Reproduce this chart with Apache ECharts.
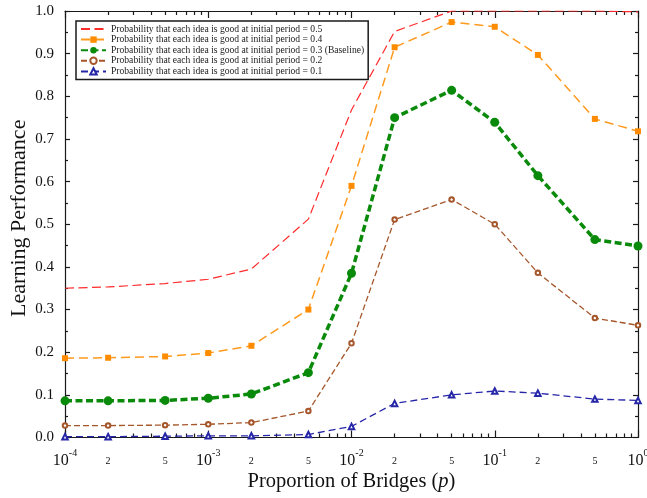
<!DOCTYPE html>
<html>
<head>
<meta charset="utf-8">
<title>Learning Performance vs Proportion of Bridges</title>
<script src="https://cdn.jsdelivr.net/npm/echarts@6/dist/echarts.min.js"></script>
<style>
  html, body { margin: 0; padding: 0; background: #ffffff; }
  #chart { width: 647px; height: 498px; }
</style>
</head>
<body>
<div id="chart"></div>
<script>
// Proportion of bridges p (x, log scale)
const pValues = [1e-4, 2e-4, 5e-4, 1e-3, 2e-3, 5e-3, 1e-2, 2e-2, 5e-2, 1e-1, 2e-1, 5e-1, 1];

// Learning performance for each initial probability that an idea is good
const perf05 = [0.350, 0.353, 0.361, 0.371, 0.395, 0.512, 0.768, 0.952, 1.000, 1.000, 1.000, 1.000, 0.998];
const perf04 = [0.186, 0.187, 0.190, 0.198, 0.215, 0.300, 0.590, 0.915, 0.974, 0.963, 0.897, 0.747, 0.718];
const perf03 = [0.086, 0.086, 0.087, 0.092, 0.102, 0.152, 0.385, 0.750, 0.814, 0.739, 0.614, 0.464, 0.449];
const perf02 = [0.028, 0.028, 0.029, 0.031, 0.035, 0.062, 0.221, 0.511, 0.558, 0.500, 0.386, 0.280, 0.263];
const perf01 = [0.002, 0.002, 0.003, 0.004, 0.004, 0.007, 0.026, 0.080, 0.100, 0.109, 0.104, 0.090, 0.087];

const seriesNames = [
  'Probability that each idea is good at initial period = 0.5',
  'Probability that each idea is good at initial period = 0.4',
  'Probability that each idea is good at initial period = 0.3 (Baseline)',
  'Probability that each idea is good at initial period = 0.2',
  'Probability that each idea is good at initial period = 0.1'
];

// Axis ticks: decades and the in-between mantissas
const xExponentRange = [-4, 0];
const minorMantissas = [2, 3, 4, 5, 6, 7, 8, 9];
const labelledMantissas = [2, 5];
const yTickStep = 0.1;

const serif = '"Liberation Serif", "DejaVu Serif", serif';

// Positions on the log10 axis for minor ticks / labels
const minorTickPos = [];
const minorLabelPos = [];
for (let e = xExponentRange[0]; e < xExponentRange[1]; e++) {
  minorMantissas.forEach(m => minorTickPos.push(Math.log10(m) + e));
  labelledMantissas.forEach(m => minorLabelPos.push(Math.log10(m) + e));
}

const toPoints = ys => ys.map((y, i) => [Math.log10(pValues[i]), y]);

const chart = echarts.init(document.getElementById('chart'), null, { renderer: 'canvas' });

const axisLineStyle = { color: '#1a1a1a', width: 1.2 };
const baseX = {
  type: 'value', min: xExponentRange[0], max: xExponentRange[1], interval: 1,
  splitLine: { show: false }
};

const option = {
  backgroundColor: '#ffffff',
  animation: false,
  grid: { left: 65, right: 9, top: 11, bottom: 60.5, containLabel: false, outerBoundsMode: 'none' },
  legend: {
    orient: 'vertical',
    left: 76, top: 21,
    padding: [3, 4, 3, 4],
    itemGap: 0.6,
    itemWidth: 25,
    itemHeight: 8,
    borderColor: '#1a1a1a',
    borderWidth: 1.5,
    backgroundColor: '#ffffff',
    textStyle: { fontFamily: serif, fontSize: 9.6, lineHeight: 10, color: '#222' },
    data: [
      { name: seriesNames[0], itemStyle: { opacity: 0 } },
      seriesNames[1], seriesNames[2], seriesNames[3], seriesNames[4]
    ]
  },
  xAxis: [
    Object.assign({}, baseX, {
      position: 'bottom',
      axisLine: { show: true, lineStyle: axisLineStyle, onZero: false },
      axisTick: { inside: true, length: 7, lineStyle: axisLineStyle },
      axisLabel: {
        margin: 11,
        formatter: v => '{b|10}{s|' + v + '}',
        rich: {
          b: { fontFamily: serif, fontSize: 16, color: '#111', verticalAlign: 'bottom', lineHeight: 20 },
          s: { fontFamily: serif, fontSize: 10, color: '#111', verticalAlign: 'top', lineHeight: 20 }
        }
      },
      name: '{n|Proportion of Bridges (}{i|p}{n|)}',
      nameLocation: 'middle',
      nameGap: 34,
      nameMoveOverlap: false,
      nameTextStyle: {
        rich: {
          n: { fontFamily: serif, fontSize: 20.5, color: '#111' },
          i: { fontFamily: serif, fontSize: 20.5, fontStyle: 'italic', color: '#111' }
        }
      }
    }),
    Object.assign({}, baseX, {
      position: 'bottom',
      axisLine: { show: false, onZero: false },
      axisTick: { inside: true, length: 4, customValues: minorTickPos, lineStyle: axisLineStyle },
      axisLabel: {
        margin: 19,
        customValues: minorLabelPos,
        formatter: v => String(Math.round(Math.pow(10, v - Math.floor(v + 1e-9)))),
        fontFamily: serif, fontSize: 10, color: '#111'
      }
    }),
    Object.assign({}, baseX, {
      position: 'top',
      axisLine: { show: true, lineStyle: axisLineStyle, onZero: false },
      axisTick: { inside: true, length: 7, lineStyle: axisLineStyle },
      axisLabel: { show: false }
    }),
    Object.assign({}, baseX, {
      position: 'top',
      axisLine: { show: false, onZero: false },
      axisTick: { inside: true, length: 4, customValues: minorTickPos, lineStyle: axisLineStyle },
      axisLabel: { show: false }
    })
  ],
  yAxis: [
    {
      type: 'value', min: 0, max: 1, interval: yTickStep, position: 'left',
      splitLine: { show: false },
      axisLine: { show: true, lineStyle: axisLineStyle, onZero: false },
      axisTick: { inside: true, length: 5, lineStyle: axisLineStyle },
      minorTick: { show: true, splitNumber: 2, length: 3, lineStyle: axisLineStyle },
      axisLabel: {
        margin: 11,
        formatter: v => v.toFixed(1),
        fontFamily: serif, fontSize: 15, color: '#111'
      },
      name: 'Learning Performance',
      nameLocation: 'middle',
      nameGap: 35,
      nameRotate: 90,
      nameMoveOverlap: false,
      nameTextStyle: { fontFamily: serif, fontSize: 22, color: '#111', padding: [0, 0, 0, 12] }
    },
    {
      type: 'value', min: 0, max: 1, interval: yTickStep, position: 'right',
      splitLine: { show: false },
      axisLine: { show: true, lineStyle: axisLineStyle, onZero: false },
      axisTick: { inside: true, length: 5, lineStyle: axisLineStyle },
      minorTick: { show: true, splitNumber: 2, length: 3, lineStyle: axisLineStyle },
      axisLabel: { show: false }
    }
  ],
  series: [
    {
      name: seriesNames[0], type: 'line', data: toPoints(perf05),
      symbol: 'none', z: 2,
      lineStyle: { color: '#ff2a2a', width: 1.2, type: [9, 4.5] },
      itemStyle: { color: '#ff2a2a' }
    },
    {
      name: seriesNames[1], type: 'line', data: toPoints(perf04),
      symbol: 'rect', symbolSize: 6, z: 3,
      lineStyle: { color: '#ff9a1e', width: 1.5, type: [9, 5] },
      itemStyle: { color: '#ff8c00' }
    },
    {
      name: seriesNames[2], type: 'line', data: toPoints(perf03),
      symbol: 'circle', symbolSize: 9, z: 4,
      lineStyle: { color: '#0a8a0a', width: 3.5, type: [7, 3.5] },
      itemStyle: { color: '#0a8a0a' }
    },
    {
      name: seriesNames[3], type: 'line', data: toPoints(perf02),
      symbol: 'emptyCircle', symbolSize: 4.5, z: 3,
      lineStyle: { color: '#a5562a', width: 1.3, type: [6, 3] },
      itemStyle: { color: '#a5562a', borderWidth: 1 }
    },
    {
      name: seriesNames[4], type: 'line', data: toPoints(perf01),
      symbol: 'emptyTriangle', symbolSize: 5.5, z: 3,
      lineStyle: { color: '#2626a8', width: 1.3, type: [7, 4] },
      itemStyle: { color: '#2626a8', borderWidth: 1 }
    }
  ]
};

chart.setOption(option);
</script>
</body>
</html>
